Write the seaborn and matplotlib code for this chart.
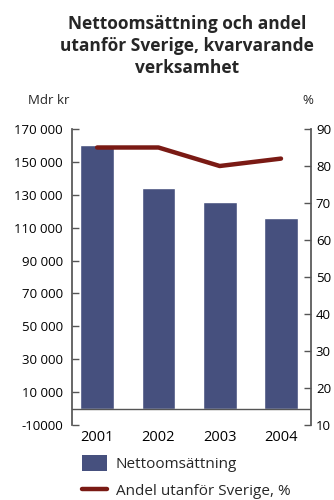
import numpy as np
import pandas as pd
import matplotlib
matplotlib.use("Agg")
import matplotlib.pyplot as plt
from matplotlib.patches import Patch
from matplotlib.lines import Line2D
import seaborn as sns

# Data
years = ["2001", "2002", "2003", "2004"]
omsattning = [160000, 134000, 125500, 116000]   # Mdr kr
andel_utanfor = [85, 85, 80, 82]                # %

left_ticks = [-10000, 10000, 30000, 50000, 70000, 90000, 110000, 130000, 150000, 170000]
left_labels = ["-10000", "10 000", "30 000", "50 000", "70 000", "90 000",
               "110 000", "130 000", "150 000", "170 000"]
right_ticks = [10, 20, 30, 40, 50, 60, 70, 80, 90]

bar_color = "#46507e"
line_color = "#7a1a14"
axis_color = "#555555"

sns.set_theme(style="white")
plt.rcParams["font.family"] = ["Open Sans", "DejaVu Sans"]

df = pd.DataFrame({"year": years, "oms": omsattning, "andel": andel_utanfor})

fig = plt.figure(figsize=(3.34, 5.0), dpi=100)
ax = fig.add_axes([0.2156, 0.15, 0.7156, 0.592])

sns.barplot(data=df, x="year", y="oms", color=bar_color, saturation=1,
            width=0.55, ax=ax)
ax.axhline(0, color=axis_color, lw=1, zorder=3)
ax.set_xlim(-0.41, 3.49)
ax.set_ylim(-10000, 170000)
ax.set_yticks(left_ticks)
ax.set_yticklabels(left_labels)
ax.set_xlabel("")
ax.set_ylabel("")

ax2 = ax.twinx()
sns.lineplot(x=np.arange(len(years)), y=df["andel"], color=line_color,
             lw=3.2, solid_capstyle="round", ax=ax2)
ax2.set_ylim(10, 90)
ax2.set_yticks(right_ticks)
ax2.set_ylabel("")

for a in (ax, ax2):
    for s in ("top", "bottom"):
        a.spines[s].set_visible(False)
    a.spines["left"].set_color(axis_color)
    a.spines["right"].set_color(axis_color)
    a.spines["left"].set_visible(a is ax)
    a.spines["right"].set_visible(a is ax2)
ax.tick_params(axis="y", direction="in", length=5, width=1, color=axis_color,
               labelsize=9.5, pad=6.5, labelcolor="black")
ax.tick_params(axis="x", length=0, labelsize=10.5, pad=3.5, labelcolor="black")
ax2.tick_params(axis="y", direction="in", length=5, width=1, color=axis_color,
                labelsize=9.5, pad=3.5, labelcolor="black")
ax.grid(False)
ax2.grid(False)

fig.text(0.56, 0.97, "Nettoomsättning och andel\nutanför Sverige, kvarvarande\nverksamhet",
         ha="center", va="top", fontsize=12.5, fontweight="bold", linespacing=1.3)
fig.text(0.085, 0.8, "Mdr kr", ha="left", va="center", fontsize=9.5)
fig.text(0.905, 0.8, "%", ha="left", va="center", fontsize=9.5)

handles = [Patch(facecolor=bar_color, edgecolor="none"),
           Line2D([0], [0], color=line_color, lw=3.2)]
fig.legend(handles, ["Nettoomsättning", "Andel utanför Sverige, %"],
           loc="upper left", bbox_to_anchor=(0.228, 0.103), frameon=False,
           fontsize=11, handlelength=1.6, handleheight=1.3, labelspacing=0.65,
           handletextpad=0.6, borderaxespad=0)

fig.savefig("out.png", dpi=100)
